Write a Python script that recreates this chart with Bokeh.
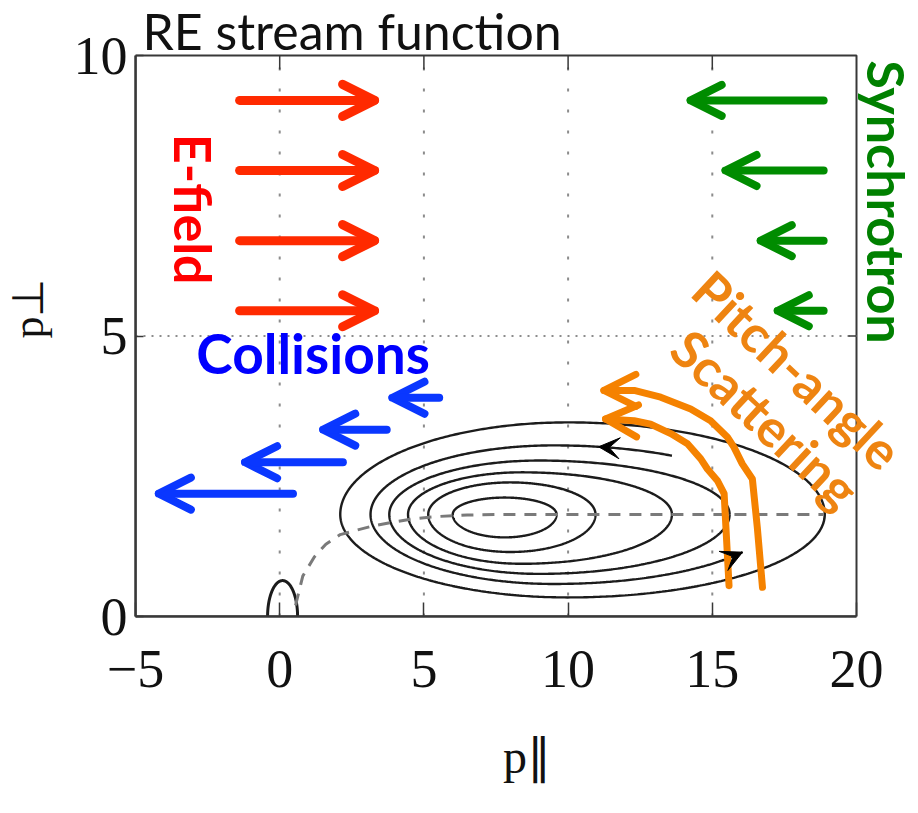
import numpy as np
from math import pi
from bokeh.plotting import figure
from bokeh.models import (Arrow, OpenHead, VeeHead, ColumnDataSource, Label,
                          FixedTicker, Range1d)
from bokeh.embed import file_html
from bokeh.resources import INLINE

# ---- axes -------------------------------------------------------------
x_ticks = [-5, 0, 5, 10, 15, 20]
x_tick_labels = ["−5", "0", "5", "10", "15", "20"]
y_ticks = [0, 5, 10]
y_tick_labels = ["0", "5", "10"]
x_grid = [0, 5, 10, 15]
y_grid = [5]
x_title = "p∥"
y_title = "p⊥"

# ---- stream-function contours, outermost first -----------------------
contour_left   = [2.1, 3.15, 3.8, 4.45, 5.15, 6.0]
contour_peak_x = [10.0, 9.5, 9.0, 8.4, 8.0, 7.8]
contour_right  = [18.9, 17.3, 15.6, 13.6, 10.95, 9.6]
contour_top    = [3.46, 3.05, 2.78, 2.57, 2.39, 2.12]
contour_bottom = [0.34, 0.58, 0.76, 0.94, 1.15, 1.41]
contour_mid_y  = 1.82

# the second streamline is open on its right-hand side
open_contour = 1
open_top_end = 13.6
open_bottom_end = 16.05
stream_arrow_x = [11.06, 16.05]
stream_arrow_side = ["top", "bottom"]

# small closed loop at the origin
loop_left, loop_peak_x, loop_right, loop_top = -0.42, 0.1, 0.62, 0.64

# separatrix (dashed)
sep_x = [0.55, 0.8, 1.2, 1.6, 2.1, 2.6, 3.2, 3.9, 4.6, 5.4, 6.5, 8.0, 18.86]
sep_y = [0.2, 0.72, 1.06, 1.29, 1.46, 1.53, 1.61, 1.68, 1.74, 1.78, 1.81, 1.82, 1.82]

# ---- force arrows -----------------------------------------------------
efield_y    = [9.2, 7.95, 6.7, 5.45]
efield_tail = [-1.39, -1.39, -1.39, -1.39]
efield_tip  = [3.29, 3.29, 3.29, 3.29]

synch_y    = [9.2, 7.95, 6.7, 5.45]
synch_tail = [18.86, 18.86, 18.86, 18.86]
synch_tip  = [14.25, 15.46, 16.68, 17.27]

coll_y    = [2.19, 2.75, 3.33, 3.90]
coll_tail = [0.46, 2.19, 3.71, 5.53]
coll_tip  = [-4.19, -1.20, 1.51, 3.91]

# pitch-angle scattering paths, from the bottom up to the arrow tip
pas_outer_x = [16.74, 16.56, 16.39, 16.04, 15.75, 15.52, 14.94, 14.25, 13.21, 12.29, 11.24]
pas_outer_y = [0.52, 1.59, 2.45, 2.72, 3.02, 3.20, 3.49, 3.70, 3.91, 4.03, 4.03]
pas_inner_x = [15.58, 15.41, 15.18, 14.83, 14.60, 14.14, 13.56, 12.86, 12.29, 11.30]
pas_inner_y = [0.55, 2.19, 2.42, 2.63, 2.81, 3.08, 3.26, 3.43, 3.49, 3.52]

RED, RED_TXT = "#FF2A00", "#FF0000"
GREEN, GREEN_TXT = "#008C00", "#008000"
BLUE, BLUE_TXT = "#0A37FF", "#0000FF"
ORANGE, ORANGE_TXT = "#F58200", "#EE8411"
INK = "#1c1c1c"
AXIS = "#383838"
GRID = "#8c8c8c"

# ---- page geometry (pixels) --------------------------------------------
W, H = 918, 813
BOX_L, BOX_R, BOX_T, BOX_B = 135, 856, 55, 616   # axes box inside the page

x0, x1 = x_ticks[0], x_ticks[-1]
y0, y1 = y_ticks[0], y_ticks[-1]
px_per_x = (BOX_R - BOX_L) / (x1 - x0)
px_per_y = (BOX_B - BOX_T) / (y1 - y0)
# the frame runs to the right and top page edges so that the annotations
# placed beside the box are not clipped
x_end = x1 + (W - BOX_R) / px_per_x
y_end = y1 + BOX_T / px_per_y


def egg(xl, xm, xr, yb, yt, yc, t):
    """Lop-sided ellipse: different half-widths left/right, half-heights up/down."""
    c, s = np.cos(t), np.sin(t)
    x = xm + np.where(c < 0, xm - xl, xr - xm) * c
    y = yc + np.where(s > 0, yt - yc, yc - yb) * s
    return x, y


p = figure(width=W, height=H, x_range=Range1d(x0, x_end), y_range=Range1d(y0, y_end),
           title=None, output_backend="svg", toolbar_location=None,
           min_border_left=BOX_L, min_border_right=0,
           min_border_top=0, min_border_bottom=H - BOX_B)
p.background_fill_color = "white"
p.border_fill_color = "white"
p.outline_line_color = None
p.xgrid.visible = False
p.ygrid.visible = False

# bottom / left axes
xa = p.below[0]
ya = p.left[0]
xa.ticker = FixedTicker(ticks=x_ticks)
xa.major_label_overrides = dict(zip(x_ticks, x_tick_labels))
xa.bounds = (x0, x1)
ya.ticker = FixedTicker(ticks=y_ticks)
ya.major_label_overrides = dict(zip(y_ticks, y_tick_labels))
ya.bounds = (y0, y1)
for ax, tick_len, standoff in ((xa, 14, 34), (ya, 8, 8)):
    ax.major_label_text_font = "Liberation Serif"
    ax.major_label_text_font_size = "54px"
    ax.major_label_text_color = "#111111"
    ax.major_tick_in = tick_len
    ax.major_tick_out = 0
    ax.major_tick_line_color = AXIS
    ax.major_tick_line_width = 1.5
    ax.minor_tick_line_color = None
    ax.axis_line_color = AXIS
    ax.axis_line_width = 2.5
    ax.major_label_standoff = standoff
    ax.axis_label_text_font = "Liberation Serif"
    ax.axis_label_text_font_style = "normal"
    ax.axis_label_text_color = "#111111"
xa.axis_label = x_title
xa.axis_label_text_font_size = "48px"
xa.axis_label_standoff = 40
ya.axis_label = y_title
ya.axis_label_text_font_size = "44px"
ya.axis_label_standoff = 18

# box edges, dotted grid and inner ticks on the top / right edges
p.quad(left=[x0], right=[x1], bottom=[y0], top=[y1], fill_color=None,
       line_color=AXIS, line_width=2)
p.segment(x0=x_grid, y0=[y0] * len(x_grid), x1=x_grid, y1=[y1] * len(x_grid),
          line_color=GRID, line_width=2, line_dash="3 18")
p.segment(x0=[x0] * len(y_grid), y0=y_grid, x1=[x1] * len(y_grid), y1=y_grid,
          line_color=GRID, line_width=2, line_dash="2 6")
top_tick = 14 / px_per_y
right_tick = 8 / px_per_x
p.segment(x0=x_grid, y0=[y1] * len(x_grid), x1=x_grid, y1=[y1 - top_tick] * len(x_grid),
          line_color=AXIS, line_width=1.5)
p.segment(x0=[x1] * len(y_grid), y0=y_grid, x1=[x1 - right_tick] * len(y_grid), y1=y_grid,
          line_color=AXIS, line_width=1.5)

# ---- stream-function contours -----------------------------------------
t_full = np.linspace(0, 2 * pi, 500)
for i in range(len(contour_left)):
    xl, xm, xr = contour_left[i], contour_peak_x[i], contour_right[i]
    yt, yb = contour_top[i], contour_bottom[i]
    if i == open_contour:
        t0 = np.arccos((open_top_end - xm) / (xr - xm))
        t1 = 2 * pi - np.arccos((open_bottom_end - xm) / (xr - xm))
        t = np.linspace(t0, t1, 500)
    else:
        t = t_full
    cx, cy = egg(xl, xm, xr, yb, yt, contour_mid_y, t)
    p.line(cx, cy, line_color=INK, line_width=2.4)

# direction arrowheads on the open streamline
xl, xm, xr = contour_left[open_contour], contour_peak_x[open_contour], contour_right[open_contour]
yt, yb = contour_top[open_contour], contour_bottom[open_contour]
for ax_x, side in zip(stream_arrow_x, stream_arrow_side):
    ta = np.arccos((ax_x - xm) / (xr - xm))
    if side == "bottom":
        ta = 2 * pi - ta
    sx0, sy0 = egg(xl, xm, xr, yb, yt, contour_mid_y, np.array([ta - 0.04]))
    sx1, sy1 = egg(xl, xm, xr, yb, yt, contour_mid_y, np.array([ta]))
    p.add_layout(Arrow(x_start=float(sx0[0]), y_start=float(sy0[0]),
                       x_end=float(sx1[0]), y_end=float(sy1[0]), line_color=None,
                       end=VeeHead(size=21, fill_color="black", line_color="black",
                                   line_width=1)))

# loop at the origin and separatrix
lx, ly = egg(loop_left, loop_peak_x, loop_right, -loop_top, loop_top, 0.0, t_full)
p.line(lx, ly, line_color=INK, line_width=3)
p.line(sep_x, sep_y, line_color="#7a7a7a", line_width=3, line_dash="12 9")

# ---- pitch-angle scattering paths ---------------------------------------
for px_, py_ in ((pas_outer_x, pas_outer_y), (pas_inner_x, pas_inner_y)):
    p.line(px_, py_, line_color=ORANGE, line_width=7, line_cap="round", line_join="round")
    p.add_layout(Arrow(x_start=px_[-2], y_start=py_[-2], x_end=px_[-1], y_end=py_[-1],
                       line_color=None,
                       end=OpenHead(size=32, line_color=ORANGE, line_width=7,
                                    line_cap="round", line_join="round")))

# ---- force arrows -------------------------------------------------------
def arrow_set(tail, tip, ys, color, width, size):
    src = ColumnDataSource(dict(x0=tail, x1=tip, y=ys))
    p.add_layout(Arrow(x_start="x0", y_start="y", x_end="x1", y_end="y", source=src,
                       line_color=color, line_width=width, line_cap="round",
                       end=OpenHead(size=size, line_color=color, line_width=width,
                                    line_cap="round", line_join="round")))

arrow_set(efield_tail, efield_tip, efield_y, RED, 9, 32)
arrow_set(synch_tail, synch_tip, synch_y, GREEN, 8, 31)
arrow_set(coll_tail, coll_tip, coll_y, BLUE, 8, 32)

# ---- text ---------------------------------------------------------------
def lab(x, y, text, color, size, angle=0.0, bold=True, font="Lato",
        align="center", baseline="middle"):
    p.add_layout(Label(x=x, y=y, text=text, text_color=color, text_font=font,
                       text_font_size=size, text_font_style="bold" if bold else "normal",
                       angle=angle, text_align=align, text_baseline=baseline))

# title sits just above the top-left corner of the box
lab(x0 + 7 / px_per_x, y1 + 24.5 / px_per_y, "RE stream function", "#111111", "50px",
    bold=False, align="left")
lab(-2.98, 7.26, "E-field", RED_TXT, "52px", angle=-pi / 2)
lab(1.16, 4.69, "Collisions", BLUE_TXT, "55px")
lab(21.05, 7.39, "Synchrotron", GREEN_TXT, "52px", angle=-pi / 2)
lab(17.96, 4.40, "Pitch-angle", ORANGE_TXT, "52px", angle=-0.75)
lab(16.85, 3.53, "Scattering", ORANGE_TXT, "52px", angle=-0.75)

open("out.html", "w").write(file_html(p, INLINE))
